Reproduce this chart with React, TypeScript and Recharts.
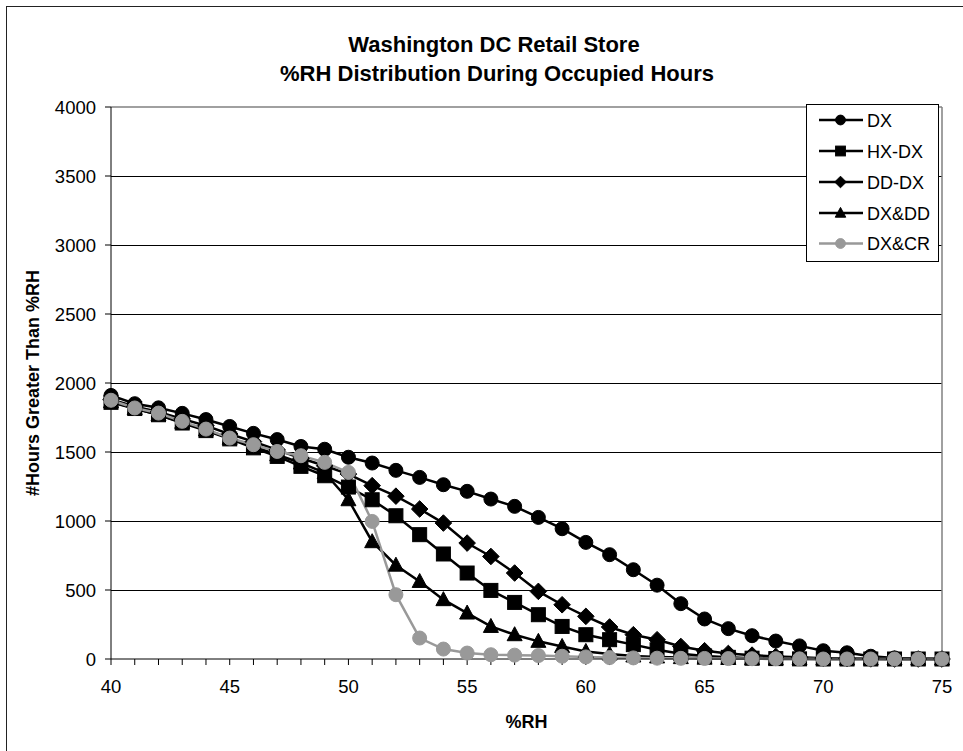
import React from 'react';
import { LineChart, Line, XAxis, YAxis, CartesianGrid, ReferenceLine, Legend } from 'recharts';

// %RH values (x axis categories)
const rhValues = [40, 41, 42, 43, 44, 45, 46, 47, 48, 49, 50, 51, 52, 53, 54, 55, 56, 57, 58, 59, 60, 61, 62, 63, 64, 65, 66, 67, 68, 69, 70, 71, 72, 73, 74, 75];

// # hours greater than %RH, per system
const dxHours = [1910, 1850, 1820, 1780, 1735, 1685, 1635, 1590, 1540, 1520, 1462, 1420, 1367, 1316, 1263, 1215, 1159, 1106, 1026, 944, 845, 756, 647, 535, 401, 290, 220, 169, 130, 95, 60, 45, 20, 8, 3, 0];
const hxDxHours = [1860, 1815, 1770, 1710, 1655, 1595, 1530, 1468, 1396, 1328, 1246, 1154, 1038, 901, 761, 623, 497, 410, 321, 236, 176, 140, 104, 67, 38, 22, 12, 6, 3, 1, 0, 0, 0, 0, 0, 0];
const ddDxHours = [1880, 1830, 1790, 1740, 1690, 1630, 1575, 1515, 1455, 1400, 1340, 1256, 1180, 1087, 985, 840, 743, 623, 490, 393, 309, 232, 176, 140, 91, 60, 40, 28, 18, 12, 6, 3, 1, 0, 0, 0];
const dxDdHours = [1865, 1815, 1770, 1715, 1660, 1600, 1540, 1480, 1420, 1350, 1154, 850, 680, 562, 430, 333, 236, 176, 128, 91, 55, 36, 22, 15, 10, 6, 4, 2, 0, 0, 0, 0, 0, 0, 0, 0];
const dxCrHours = [1875, 1819, 1782, 1722, 1666, 1601, 1553, 1504, 1473, 1425, 1352, 997, 466, 152, 72, 43, 31, 28, 25, 20, 15, 10, 8, 6, 5, 4, 3, 2, 2, 1, 0, 0, 0, 0, 0, 0];

const yTicks = [0, 500, 1000, 1500, 2000, 2500, 3000, 3500, 4000];
const gridValues = [500, 1000, 1500, 2000, 2500, 3000, 3500];

const titleLines = ['Washington DC Retail Store', '%RH Distribution During Occupied Hours'];
const xTitle = '%RH';
const yTitle = '#Hours Greater Than %RH';

const data = rhValues.map((rh, i) => ({
  rh,
  dx: dxHours[i],
  hxdx: hxDxHours[i],
  dddx: ddDxHours[i],
  dxdd: dxDdHours[i],
  dxcr: dxCrHours[i],
}));

const FONT = '"Liberation Sans", Arial, Helvetica, sans-serif';
const GRAY = '#999999';

type Shape = 'circle' | 'square' | 'diamond' | 'triangle';

const series: { key: string; name: string; color: string; shape: Shape }[] = [
  { key: 'dx', name: 'DX', color: '#000000', shape: 'circle' },
  { key: 'hxdx', name: 'HX-DX', color: '#000000', shape: 'square' },
  { key: 'dddx', name: 'DD-DX', color: '#000000', shape: 'diamond' },
  { key: 'dxdd', name: 'DX&DD', color: '#000000', shape: 'triangle' },
  { key: 'dxcr', name: 'DX&CR', color: GRAY, shape: 'circle' },
];

function marker(shape: Shape, cx: number, cy: number, s: number, color: string, key?: string) {
  switch (shape) {
    case 'circle':
      return <circle key={key} cx={cx} cy={cy} r={s * 7} fill={color} stroke={color} strokeWidth={1} />;
    case 'square':
      return <rect key={key} x={cx - s * 7} y={cy - s * 7} width={s * 14} height={s * 14} fill={color} stroke={color} strokeWidth={1} />;
    case 'diamond':
      return (
        <polygon
          key={key}
          points={`${cx},${cy - s * 8.3} ${cx + s * 8.3},${cy} ${cx},${cy + s * 8.3} ${cx - s * 8.3},${cy}`}
          fill={color}
          stroke={color}
        />
      );
    case 'triangle':
    default:
      return (
        <polygon
          key={key}
          points={`${cx},${cy - s * 8} ${cx + s * 7.5},${cy + s * 6} ${cx - s * 7.5},${cy + s * 6}`}
          fill={color}
          stroke={color}
        />
      );
  }
}

const makeDot = (shape: Shape, color: string, sKey: string) => (props: any) => {
  const { cx, cy, index } = props;
  if (cx == null || cy == null) return <g key={`${sKey}-${index}`} />;
  return marker(shape, cx, cy, 1, color, `${sKey}-${index}`);
};

const renderLegend = () => {
  const rowsY = [16, 47, 78, 109, 139.5];
  return (
    <div
      style={{
        width: 133,
        height: 158,
        boxSizing: 'border-box',
        border: '1px solid #000',
        background: '#fff',
      }}
    >
      <svg width={131} height={156} style={{ display: 'block' }}>
        {series.map((s, i) => {
          const y = rowsY[i] - 1;
          return (
            <g key={s.key}>
              <line x1={12} x2={56} y1={y} y2={y} stroke={s.color} strokeWidth={2.5} />
              {marker(s.shape, 33.5, y, 0.7, s.color)}
              <text x={60} y={y + 6.5} fontFamily={FONT} fontSize={18} fill="#000">
                {s.name}
              </text>
            </g>
          );
        })}
      </svg>
    </div>
  );
};

export default function App() {
  return (
    <div
      style={{
        position: 'absolute',
        left: 0,
        top: 0,
        width: 963,
        height: 751,
        overflow: 'hidden',
        background: '#fff',
      }}
    >
      <div
        style={{
          position: 'absolute',
          left: 6,
          top: 6,
          width: 1000,
          height: 800,
          borderLeft: '1.5px solid #222',
          borderTop: '1.5px solid #222',
        }}
      />
      <div style={{ position: 'absolute', left: 0, top: 0 }}>
        <LineChart
          width={963}
          height={751}
          data={data}
          margin={{ top: 107, right: 21, left: 0, bottom: 0 }}
        >
          <CartesianGrid
            horizontal
            vertical={false}
            horizontalValues={gridValues}
            stroke="#000"
            strokeWidth={1}
            shapeRendering="crispEdges"
          />
          <XAxis
            dataKey="rh"
            type="number"
            domain={[40, 75]}
            ticks={rhValues}
            interval={0}
            tickFormatter={(v: number) => (v % 5 === 0 ? String(v) : '')}
            height={92}
            tickSize={6}
            tickMargin={15}
            axisLine={{ stroke: '#000', strokeWidth: 1 }}
            tickLine={{ stroke: '#000', strokeWidth: 1 }}
            tick={{ fill: '#000', fontSize: 18.5, fontFamily: FONT }}
            label={{ value: xTitle, position: 'insideBottom', offset: 23, fill: '#000', fontSize: 18, fontWeight: 'bold', fontFamily: FONT }}
          />
          <YAxis
            type="number"
            domain={[0, 4000]}
            ticks={yTicks}
            interval={0}
            width={111}
            tickSize={6}
            tickMargin={9}
            axisLine={{ stroke: '#000', strokeWidth: 1 }}
            tickLine={{ stroke: '#000', strokeWidth: 1 }}
            tick={{ fill: '#000', fontSize: 18.5, fontFamily: FONT }}
          />
          <ReferenceLine y={4000} stroke="#808080" strokeWidth={1.5} ifOverflow="extendDomain" />
          <ReferenceLine x={75} stroke="#808080" strokeWidth={1.5} />
          <Legend
            layout="vertical"
            align="center"
            verticalAlign="middle"
            content={renderLegend}
            wrapperStyle={{ left: 806, top: 104, width: 133, height: 158 }}
          />
          {series.map((s) => (
            <Line
              key={s.key}
              type="linear"
              dataKey={s.key}
              name={s.name}
              stroke={s.color}
              strokeWidth={2.5}
              dot={makeDot(s.shape, s.color, s.key)}
              activeDot={false}
              isAnimationActive={false}
            />
          ))}
        </LineChart>
      </div>
      <svg
        width={963}
        height={751}
        style={{ position: 'absolute', left: 0, top: 0, pointerEvents: 'none' }}
      >
        <text x={494} y={52} textAnchor="middle" fontFamily={FONT} fontSize={22} fontWeight="bold" fill="#000">
          {titleLines[0]}
        </text>
        <text x={497} y={81} textAnchor="middle" fontFamily={FONT} fontSize={22} fontWeight="bold" fill="#000">
          {titleLines[1]}
        </text>
        <text
          transform="translate(39,383) rotate(-90)"
          textAnchor="middle"
          fontFamily={FONT}
          fontSize={18}
          fontWeight="bold"
          fill="#000"
        >
          {yTitle}
        </text>
      </svg>
    </div>
  );
}
